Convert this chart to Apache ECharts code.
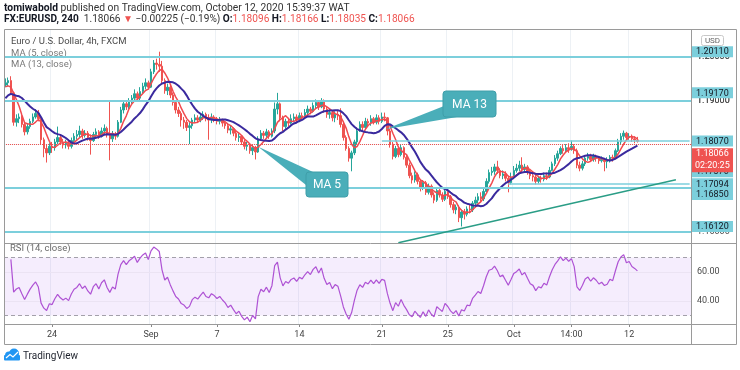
<!DOCTYPE html>
<html><head><meta charset="utf-8">
<script src="https://cdn.jsdelivr.net/npm/echarts@6/dist/echarts.min.js"></script>
<style>html,body{margin:0;padding:0;background:#fff}#c{width:740px;height:370px}</style>
</head><body><div id="c"></div>
<script>
// ---------- DATA ----------
// 4h EUR/USD bars, Aug 19 2020 -> Oct 12 2020 (open of each bar = previous close)
const closes = [
1.1940,1.1945,1.1917,1.1850,1.1858,1.1862,1.1845,1.1828,1.1840,1.1852,
1.1862,1.1870,1.1858,1.1810,1.1790,1.1780,1.1795,1.1792,1.1805,1.1815,
1.1805,1.1798,1.1802,1.1795,1.1808,1.1818,1.1822,1.1830,1.1820,1.1825,
1.1815,1.1808,1.1822,1.1828,1.1818,1.1830,1.1836,1.1822,1.1812,1.1822,
1.1818,1.1850,1.1878,1.1892,1.1885,1.1898,1.1905,1.1915,1.1905,1.1920,
1.1932,1.1940,1.1930,1.1965,1.1985,1.1982,1.1978,1.1945,1.1922,1.1930,
1.1912,1.1895,1.1878,1.1870,1.1855,1.1850,1.1838,1.1842,1.1855,1.1860,
1.1855,1.1862,1.1868,1.1858,1.1855,1.1862,1.1858,1.1852,1.1855,1.1848,
1.1842,1.1832,1.1835,1.1825,1.1815,1.1818,1.1805,1.1795,1.1798,1.1785,
1.1792,1.1782,1.1812,1.1825,1.1820,1.1828,1.1818,1.1830,1.1880,1.1892,
1.1860,1.1840,1.1852,1.1848,1.1858,1.1862,1.1855,1.1865,1.1862,1.1872,
1.1880,1.1875,1.1888,1.1895,1.1885,1.1898,1.1880,1.1868,1.1872,1.1860,
1.1868,1.1865,1.1845,1.1815,1.1790,1.1768,1.1780,1.1805,1.1830,1.1845,
1.1838,1.1852,1.1848,1.1858,1.1850,1.1860,1.1852,1.1862,1.1860,1.1830,
1.1800,1.1772,1.1790,1.1776,1.1792,1.1770,1.1752,1.1728,1.1718,1.1730,
1.1715,1.1700,1.1712,1.1690,1.1704,1.1684,1.1672,1.1694,1.1684,1.1674,
1.1692,1.1680,1.1662,1.1650,1.1656,1.1632,1.1645,1.1640,1.1652,1.1650,
1.1665,1.1672,1.1680,1.1675,1.1692,1.1715,1.1735,1.1738,1.1748,1.1740,
1.1728,1.1732,1.1722,1.1712,1.1725,1.1740,1.1745,1.1752,1.1742,1.1748,
1.1738,1.1728,1.1725,1.1715,1.1722,1.1720,1.1728,1.1725,1.1740,1.1755,
1.1768,1.1778,1.1790,1.1785,1.1792,1.1788,1.1795,1.1785,1.1752,1.1745,
1.1755,1.1768,1.1772,1.1765,1.1772,1.1768,1.1762,1.1765,1.1760,1.1762,
1.1770,1.1768,1.1785,1.1805,1.1818,1.1825,1.1815,1.1818,1.1812,1.18096,
1.18066];
const highs = [
1.1950,1.1952,1.1955,1.1920,1.1868,1.1870,1.1866,1.1850,1.1848,1.1858,
1.1870,1.1880,1.1878,1.1862,1.1815,1.1800,1.1802,1.1805,1.1812,1.1840,
1.1822,1.1812,1.1810,1.1808,1.1815,1.1825,1.1832,1.1842,1.1835,1.1832,
1.1830,1.1822,1.1828,1.1836,1.1832,1.1838,1.1845,1.1840,1.1900,1.1830,
1.1828,1.1855,1.1885,1.1898,1.1900,1.1905,1.1912,1.1925,1.1920,1.1930,
1.1940,1.1950,1.1945,1.1972,1.1992,1.1995,1.2011,1.1990,1.1950,1.1938,
1.1935,1.1918,1.1900,1.1885,1.1875,1.1862,1.1855,1.1850,1.1860,1.1868,
1.1866,1.1870,1.1875,1.1872,1.1868,1.1870,1.1866,1.1862,1.1862,1.1858,
1.1852,1.1848,1.1842,1.1838,1.1830,1.1825,1.1820,1.1810,1.1805,1.1800,
1.1800,1.1796,1.1818,1.1832,1.1830,1.1835,1.1832,1.1836,1.1895,1.1917,
1.1895,1.1865,1.1858,1.1860,1.1868,1.1870,1.1868,1.1872,1.1872,1.1880,
1.1888,1.1885,1.1895,1.1902,1.1900,1.1905,1.1902,1.1885,1.1880,1.1876,
1.1875,1.1878,1.1882,1.1850,1.1820,1.1795,1.1785,1.1810,1.1838,1.1852,
1.1852,1.1860,1.1858,1.1866,1.1862,1.1868,1.1866,1.1872,1.1872,1.1862,
1.1835,1.1805,1.1796,1.1795,1.1798,1.1795,1.1775,1.1758,1.1735,1.1738,
1.1735,1.1720,1.1718,1.1716,1.1710,1.1708,1.1690,1.1700,1.1698,1.1690,
1.1698,1.1696,1.1684,1.1668,1.1662,1.1660,1.1650,1.1652,1.1658,1.1662,
1.1670,1.1680,1.1688,1.1690,1.1700,1.1722,1.1742,1.1748,1.1755,1.1762,
1.1745,1.1740,1.1738,1.1728,1.1735,1.1750,1.1755,1.1762,1.1770,1.1755,
1.1752,1.1742,1.1735,1.1730,1.1728,1.1728,1.1735,1.1735,1.1748,1.1760,
1.1775,1.1785,1.1795,1.1798,1.1800,1.1802,1.1808,1.1800,1.1790,1.1760,
1.1762,1.1775,1.1780,1.1778,1.1778,1.1776,1.1772,1.1772,1.1768,1.1770,
1.1775,1.1776,1.1790,1.1812,1.1825,1.1831,1.1828,1.1825,1.1822,1.1818,
1.18166];
const lows = [
1.1930,1.1932,1.1912,1.1842,1.1840,1.1848,1.1838,1.1820,1.1822,1.1835,
1.1848,1.1858,1.1852,1.1800,1.1770,1.1758,1.1775,1.1780,1.1785,1.1800,
1.1798,1.1790,1.1790,1.1788,1.1790,1.1802,1.1810,1.1815,1.1812,1.1815,
1.1808,1.1776,1.1805,1.1815,1.1812,1.1815,1.1822,1.1815,1.1763,1.1805,
1.1810,1.1815,1.1848,1.1870,1.1878,1.1880,1.1892,1.1898,1.1898,1.1900,
1.1915,1.1925,1.1925,1.1928,1.1960,1.1970,1.1965,1.1938,1.1915,1.1912,
1.1905,1.1888,1.1870,1.1862,1.1840,1.1835,1.1830,1.1800,1.1835,1.1848,
1.1848,1.1850,1.1855,1.1852,1.1810,1.1848,1.1850,1.1845,1.1845,1.1840,
1.1835,1.1825,1.1822,1.1818,1.1808,1.1805,1.1798,1.1788,1.1785,1.1778,
1.1775,1.1765,1.1780,1.1808,1.1812,1.1815,1.1812,1.1815,1.1825,1.1868,
1.1852,1.1830,1.1835,1.1840,1.1845,1.1850,1.1848,1.1850,1.1855,1.1858,
1.1865,1.1868,1.1872,1.1880,1.1878,1.1882,1.1872,1.1860,1.1858,1.1852,
1.1850,1.1855,1.1838,1.1808,1.1785,1.1760,1.1738,1.1775,1.1800,1.1828,
1.1830,1.1835,1.1840,1.1842,1.1845,1.1845,1.1845,1.1848,1.1852,1.1820,
1.1792,1.1765,1.1768,1.1770,1.1772,1.1765,1.1746,1.1722,1.1710,1.1712,
1.1708,1.1692,1.1695,1.1684,1.1685,1.1678,1.1665,1.1668,1.1678,1.1668,
1.1670,1.1675,1.1655,1.1642,1.1640,1.1622,1.1612,1.1628,1.1635,1.1642,
1.1645,1.1660,1.1665,1.1668,1.1670,1.1690,1.1710,1.1728,1.1730,1.1732,
1.1722,1.1720,1.1715,1.1690,1.1708,1.1720,1.1735,1.1738,1.1735,1.1738,
1.1730,1.1720,1.1715,1.1708,1.1710,1.1712,1.1715,1.1718,1.1722,1.1738,
1.1750,1.1762,1.1775,1.1778,1.1780,1.1780,1.1785,1.1778,1.1745,1.1738,
1.1740,1.1750,1.1762,1.1760,1.1760,1.1760,1.1755,1.1758,1.1738,1.1745,
1.1758,1.1760,1.1765,1.1782,1.1800,1.1810,1.1810,1.1810,1.1805,1.1802,
1.18035];
const firstOpen = 1.1935;
// closes before the visible window (warm-up for MA 13 / RSI 14)
const priorCloses = [1.1862,1.1870,1.1878,1.1885,1.1880,1.1895,1.1912,1.1925,1.1935,1.1930,1.1922,1.1928];

const timeTicks = [[17,'24'],[53,'Sep'],[77,'7'],[107,'14'],[137,'21'],[161,'25'],[185,'Oct'],[206,'14:00'],[227,'12']];
const priceTicks = [1.160,1.165,1.170,1.175,1.180,1.185,1.190,1.195,1.200,1.205];
const rsiTicks = [40,60];
const rsiBand = [30,70];
const levels = [1.20110,1.19170,1.17370,1.16850,1.16120];          // full-width horizontal lines
const partialLevels = [[137,1.18070],[183,1.17094]];              // [start bar, price]
const trendLine = [[143,1.1575],[244,1.17186]];                   // [bar, price] endpoints
const lastPrice = 1.18066;
const countdown = '02:20:25';
const totalSlots = 250;

// ---------- BUILD ----------
const FONT = 'Roboto, "Noto Sans", sans-serif';
const UP = '#26a69a', DOWN = '#ef5350', CYAN = '#7ccfdc', GRID = '#edf1f5', TEAL = '#4aaeb9';
const N = closes.length;
const cats = []; for (let i = 0; i < totalSlots; i++) cats.push('b' + i);
const tickMap = {}; timeTicks.forEach(([i, l]) => tickMap[i] = l);
const tickInterval = (idx) => tickMap[idx] !== undefined;

const candles = closes.map((c, i) => {
  const o = i === 0 ? firstOpen : closes[i - 1];
  return [o, c, Math.min(lows[i], o, c), Math.max(highs[i], o, c)];
});
const all = priorCloses.concat(closes), P = priorCloses.length;
function sma(n) {
  return closes.map((_, i) => { const j = i + P; if (j - n + 1 < 0) return null;
    let s = 0; for (let k = j - n + 1; k <= j; k++) s += all[k]; return +(s / n).toFixed(5); });
}
function rsi(n) {
  const out = new Array(N).fill(null); let ag = 0, al = 0;
  for (let j = 1; j < all.length; j++) {
    const d = all[j] - all[j - 1], g = Math.max(d, 0), l = Math.max(-d, 0);
    if (j <= n) { ag += g / n; al += l / n; } else { ag = (ag * (n - 1) + g) / n; al = (al * (n - 1) + l) / n; }
    if (j >= n && j - P >= 0) out[j - P] = +(al === 0 ? 100 : 100 - 100 / (1 + ag / al)).toFixed(2);
  }
  return out;
}
const ma5 = sma(5), ma13 = sma(13), rsi14 = rsi(14);

const chart = echarts.init(document.getElementById('c'), null, {renderer: 'canvas'});
const mlLevels = levels.map(v => ({yAxis: v, lineStyle: {color: CYAN, width: 2, type: 'solid'}}));
partialLevels.forEach(([i, v]) => mlLevels.push([{coord: [i, v], lineStyle: {color: CYAN, width: 1.5, type: 'solid'}}, {coord: [totalSlots - 1, v]}]));
mlLevels.push([{coord: trendLine[0], lineStyle: {color: '#2a9d86', width: 1.5, type: 'solid'}}, {coord: trendLine[1]}]);
mlLevels.push({yAxis: lastPrice, lineStyle: {color: DOWN, width: 1, type: 'dotted'}});

const option = {
  animation: false,
  backgroundColor: '#ffffff',
  grid: [
    {left: 4, right: 49, top: 29, height: 214, outerBoundsMode: 'none'},
    {left: 4, right: 49, top: 243, height: 81, outerBoundsMode: 'none'}
  ],
  xAxis: [
    {type: 'category', gridIndex: 0, data: cats, boundaryGap: true,
     axisLine: {show: false}, axisTick: {show: false}, axisLabel: {show: false},
     splitLine: {show: true, interval: tickInterval, lineStyle: {color: GRID, width: 1}}},
    {type: 'category', gridIndex: 1, data: cats, boundaryGap: true,
     axisLine: {show: false},
     axisTick: {show: true, alignWithLabel: true, interval: tickInterval, length: 3, lineStyle: {color: '#888'}},
     axisLabel: {show: true, interval: tickInterval, formatter: (v, i) => tickMap[i] || '', color: '#444', fontSize: 9, margin: 6, fontFamily: FONT},
     splitLine: {show: true, interval: tickInterval, lineStyle: {color: GRID, width: 1}}}
  ],
  yAxis: [
    {type: 'value', gridIndex: 0, min: 1.15743, max: 1.20628, show: false},
    {type: 'value', gridIndex: 1, min: 24.14, max: 80, show: false}
  ],
  series: [
    {type: 'candlestick', name: 'EURUSD', xAxisIndex: 0, yAxisIndex: 0, data: candles, barWidth: 2, z: 2,
     itemStyle: {color: UP, color0: DOWN, borderColor: UP, borderColor0: DOWN, borderWidth: 1},
     markLine: {silent: true, symbol: 'none', animation: false, z: 5, label: {show: false}, data: mlLevels}},
    {type: 'line', name: 'MA 5', xAxisIndex: 0, yAxisIndex: 0, data: ma5, symbol: 'none', z: 3,
     lineStyle: {color: '#f04a4f', width: 1.5},
     markLine: {silent: true, symbol: 'none', animation: false, z: 1,
       lineStyle: {color: GRID, width: 1, type: 'solid'},
       label: {show: true, position: 'end', distance: 6, formatter: p => p.value.toFixed(5), color: '#4a4a4a', fontSize: 9, fontFamily: FONT},
       data: priceTicks.map(v => ({yAxis: v}))}},
    {type: 'line', name: 'MA 13', xAxisIndex: 0, yAxisIndex: 0, data: ma13, symbol: 'none', z: 3,
     lineStyle: {color: '#3a2a9e', width: 2}},
    {type: 'line', name: 'RSI', xAxisIndex: 1, yAxisIndex: 1, data: rsi14, symbol: 'none', z: 3,
     lineStyle: {color: '#ae52d4', width: 1.2},
     markArea: {silent: true, z: 1, itemStyle: {color: 'rgba(168, 90, 235, 0.11)'}, data: [[{yAxis: rsiBand[0]}, {yAxis: rsiBand[1]}]]},
     markLine: {silent: true, symbol: 'none', animation: false, z: 2,
       label: {show: true, position: 'end', distance: 6, color: '#4a4a4a', fontSize: 9, fontFamily: FONT, formatter: p => p.value.toFixed(2)},
       data: rsiBand.map(v => ({yAxis: v, label: {show: false}, lineStyle: {color: '#a3a0aa', width: 1, type: [4, 3]}}))
         .concat(rsiTicks.map(v => ({yAxis: v, lineStyle: {color: '#ebe3f3', width: 1, type: 'solid'}})))}}
  ]
};
chart.setOption(option);

// ---------- ANNOTATIONS ----------
const py = v => chart.convertToPixel({yAxisIndex: 0}, v);
const pxy = (i, v) => chart.convertToPixel({xAxisIndex: 0, yAxisIndex: 0}, [i, v]);
const BORDER = '#9a9a9a';
const g = [];
// frame
g.push({type: 'rect', shape: {x: 4.5, y: 29.5, width: 732, height: 315}, style: {fill: 'none', stroke: BORDER, lineWidth: 1}, z: 40});
g.push({type: 'line', shape: {x1: 691.5, y1: 29, x2: 691.5, y2: 345}, style: {stroke: BORDER, lineWidth: 1}, z: 40});
g.push({type: 'line', shape: {x1: 4, y1: 243.5, x2: 737, y2: 243.5}, style: {stroke: BORDER, lineWidth: 1}, z: 40});
g.push({type: 'line', shape: {x1: 4, y1: 324.5, x2: 737, y2: 324.5}, style: {stroke: BORDER, lineWidth: 1}, z: 40});
// header
g.push({type: 'text', x: 4, y: 8, z: 50, style: {text: '{b|tomiwabold} published on TradingView.com, October 12, 2020 15:39:37 WAT',
  fill: '#333', fontSize: 10.3, fontFamily: FONT, verticalAlign: 'middle',
  rich: {b: {fontWeight: 'bold', fill: '#131722', fontSize: 10.3, fontFamily: FONT}}}});
g.push({type: 'text', x: 4, y: 19.5, z: 50, style: {text: '{b|FX:EURUSD, 240}  1.18066 {r|▼} −0.00225 (−0.19%) {b|O:}{r|1.18096} {b|H:}{r|1.18166} {b|L:}{r|1.18035} {b|C:}{r|1.18066}',
  fill: '#333', fontSize: 10.1, fontFamily: FONT, verticalAlign: 'middle',
  rich: {b: {fontWeight: 'bold', fill: '#131722', fontSize: 10.1, fontFamily: FONT}, r: {fill: DOWN, fontSize: 10.1, fontFamily: FONT}}}});
// legends
g.push({type: 'text', x: 11, y: 42, z: 50, style: {text: 'Euro / U.S. Dollar, 4h, FXCM', fill: '#4a4a4a', fontSize: 9.5, fontFamily: FONT, verticalAlign: 'middle'}});
g.push({type: 'text', x: 11, y: 53.5, z: 4, style: {text: 'MA (5, close)', fill: '#7a7a7a', fontSize: 9.5, fontFamily: FONT, verticalAlign: 'middle'}});
g.push({type: 'text', x: 11, y: 65, z: 50, style: {text: 'MA (13, close)', fill: '#7a7a7a', fontSize: 9.5, fontFamily: FONT, verticalAlign: 'middle'}});
g.push({type: 'text', x: 10, y: 248.5, z: 50, style: {text: 'RSI (14, close)', fill: '#6a6a6a', fontSize: 9.5, fontFamily: FONT, verticalAlign: 'middle'}});
// price tags
function tag(y, text, bg, fg) {
  g.push({type: 'rect', shape: {x: 692, y: y - 5.5, width: 41, height: 11}, style: {fill: bg}, z: 60});
  g.push({type: 'text', x: 696, y: y + 0.5, z: 61, style: {text: text, fill: fg, fontSize: 9, fontFamily: FONT, verticalAlign: 'middle'}});
}
levels.concat(partialLevels.map(d => d[1])).forEach(v => tag(py(v), v.toFixed(5), CYAN, '#131722'));
const ry = py(lastPrice) + 7;
g.push({type: 'rect', shape: {x: 692, y: ry, width: 41, height: 24}, style: {fill: DOWN}, z: 62});
g.push({type: 'text', x: 696, y: ry + 6, z: 63, style: {text: lastPrice.toFixed(5), fill: '#fff', fontSize: 9, fontFamily: FONT, verticalAlign: 'middle'}});
g.push({type: 'text', x: 695, y: ry + 18, z: 63, style: {text: countdown, fill: '#fff', fontSize: 9, fontFamily: FONT, verticalAlign: 'middle'}});
// USD box
g.push({type: 'rect', shape: {x: 701.5, y: 35.5, width: 22, height: 10, r: 2}, style: {fill: '#fff', stroke: '#c8c8c8', lineWidth: 1}, z: 64});
g.push({type: 'text', x: 712.5, y: 41, z: 65, style: {text: 'USD', fill: '#666', fontSize: 8, fontFamily: FONT, align: 'center', verticalAlign: 'middle'}});
// callouts
const t5 = pxy(92, ma5[92]), t13 = pxy(139, ma13[139]);
g.push({type: 'polygon', shape: {points: [t5, [313, 172], [306, 185]]}, style: {fill: TEAL}, z: 70});
g.push({type: 'rect', shape: {x: 306, y: 172, width: 42, height: 25, r: 3}, style: {fill: TEAL, stroke: '#3f9ea9', lineWidth: 1}, z: 70});
g.push({type: 'text', x: 327, y: 185, z: 71, style: {text: 'MA 5', fill: '#fff', fontSize: 12, fontFamily: FONT, align: 'center', verticalAlign: 'middle'}});
g.push({type: 'polygon', shape: {points: [[t13[0] - 2, t13[1] + 5], [444, 106], [457, 117]]}, style: {fill: TEAL}, z: 70});
g.push({type: 'rect', shape: {x: 443, y: 91, width: 53, height: 26, r: 3}, style: {fill: TEAL, stroke: '#3f9ea9', lineWidth: 1}, z: 70});
g.push({type: 'text', x: 469.5, y: 104.5, z: 71, style: {text: 'MA 13', fill: '#fff', fontSize: 12, fontFamily: FONT, align: 'center', verticalAlign: 'middle'}});
// TradingView logo
g.push({type: 'circle', shape: {cx: 9, cy: 355.5, r: 4}, style: {fill: '#2196f3'}, z: 50});
g.push({type: 'circle', shape: {cx: 14, cy: 353.5, r: 5}, style: {fill: '#2196f3'}, z: 50});
g.push({type: 'rect', shape: {x: 4, y: 355, width: 16, height: 5.5, r: 1}, style: {fill: '#2196f3'}, z: 50});
g.push({type: 'polyline', shape: {points: [[6, 358], [10, 354.5], [13, 357], [18, 352]]}, style: {stroke: '#fff', lineWidth: 1.2, fill: 'none'}, z: 51});
g.push({type: 'text', x: 23, y: 356, z: 50, style: {text: 'TradingView', fill: '#1e222d', fontSize: 10, fontFamily: FONT, verticalAlign: 'middle'}});

chart.setOption({graphic: {elements: g}});
</script>
</body></html>
